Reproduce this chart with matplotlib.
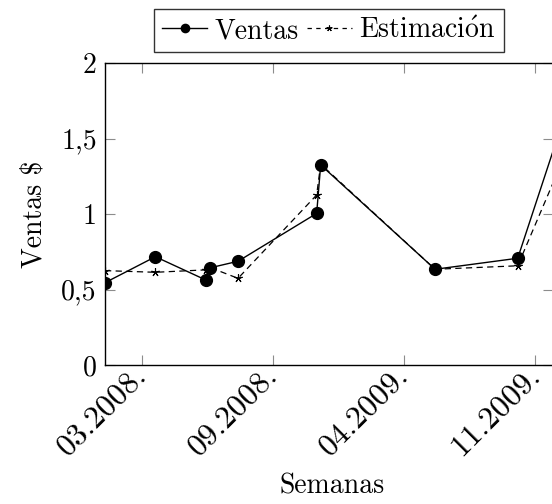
import matplotlib
matplotlib.use("Agg")
import matplotlib.pyplot as plt
from matplotlib.ticker import FixedLocator
from matplotlib.transforms import ScaledTranslation

plt.rcParams['font.family'] = ['cmr10', 'DejaVu Serif']
plt.rcParams['mathtext.fontset'] = 'cm'
plt.rcParams['axes.unicode_minus'] = False

# data (x = semana)
semanas = [2.6, 12.6, 22.6, 23.5, 29.0, 44.6, 45.4, 68.1, 84.5, 94.5]
ventas = [0.545, 0.717, 0.563, 0.644, 0.687, 1.004, 1.325, 0.634, 0.707, 1.72]
estimacion = [0.625, 0.614, 0.630, 0.645, 0.574, 1.126, 1.33, 0.634, 0.657, 1.44]

xtick_pos = [10, 36, 62, 88]
xtick_labels = ['03.2008.', '09.2008.', '04.2009.', '11.2009.']
ytick_pos = [0, 0.5, 1, 1.5, 2]
ytick_labels = ['0', '0,5', '1', '1,5', '2']

FS = 20

fig = plt.figure(figsize=(5.52, 5.04), dpi=100)
ax = fig.add_axes([105/552, 1 - 365/504, 448/552, 302/504])

ax.plot(semanas, ventas, color='black', lw=1.0, marker='o', markersize=8.5,
        label='Ventas', clip_on=True)
ax.plot(semanas, estimacion, color='black', lw=0.9, linestyle=(0, (5, 3.5)),
        marker=(5, 2, 0), markersize=6, markeredgewidth=0.8,
        label=r'Estimaci$\mathrm{\acute{o}}$n', clip_on=True)

ax.set_xlim(2.6, 91.5)
ax.set_ylim(0, 2)
ax.xaxis.set_major_locator(FixedLocator(xtick_pos))
ax.set_xticklabels(xtick_labels, rotation=45, ha='right', va='center',
                   rotation_mode='anchor', fontsize=23)
off = ScaledTranslation(-9 / 100, -4 / 100, fig.dpi_scale_trans)
for lab in ax.get_xticklabels():
    lab.set_transform(lab.get_transform() + off)
ax.yaxis.set_major_locator(FixedLocator(ytick_pos))
ax.set_yticklabels(ytick_labels, fontsize=FS)
ax.tick_params(direction='in', length=7, width=0.8, color='0.55',
               top=True, right=True, pad=6)
ax.tick_params(axis='x', pad=4)
for s in ax.spines.values():
    s.set_linewidth(1.0)
    s.set_color('black')

ax.set_xlabel('Semanas', fontsize=FS, va='center')
ax.xaxis.set_label_coords(0.507, -(486 - 365) / 302)
ax.set_ylabel('Ventas $', fontsize=FS, labelpad=10)

leg = ax.legend(loc='lower center', bbox_to_anchor=(0.5, 1.035), ncol=2,
                fontsize=FS, frameon=True, fancybox=False, edgecolor='black',
                handlelength=1.6, handletextpad=0.28, columnspacing=0.3,
                borderpad=0.3, borderaxespad=0, markerscale=0.7)
leg.get_frame().set_linewidth(1.0)
leg.get_lines()[1].set_linestyle((0, (3.5, 3.5)))

fig.savefig('out.png', dpi=100)
